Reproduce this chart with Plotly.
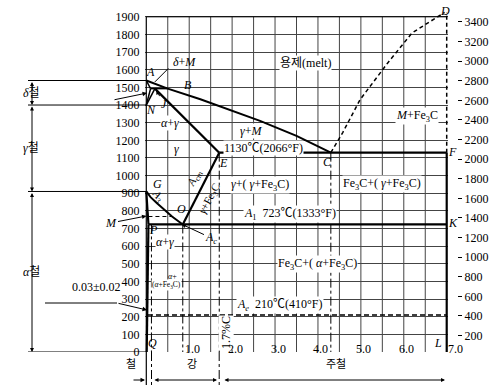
import plotly.graph_objects as go

# ---------------- data (wt% C , degC) ----------------
liquidus_c = [0.0, 0.5, 1.26, 2.65, 3.5, 4.3]
liquidus_t = [1539, 1493, 1433, 1310, 1225, 1130]
ah_c = [0.0, 0.1]
ah_t = [1539, 1493]
hjb_c = [0.1, 0.5]
hjb_t = [1493, 1493]
hn_c = [0.1, 0.06, 0.02, 0.0]
hn_t = [1493, 1460, 1425, 1400]
jn_c = [0.2, 0.0]
jn_t = [1493, 1400]
je_c = [0.2, 1.7]
je_t = [1493, 1130]
eutectic_c = [1.7, 7.0]
eutectic_t = [1130, 1130]
cd_c = [4.3, 4.58, 4.98, 5.63, 6.19, 6.95]
cd_t = [1130, 1245, 1430, 1640, 1808, 1925]
fd_c = [7.0, 7.0]
fd_t = [1130, 1925]
fl_c = [7.0, 7.0]
fl_t = [1130, 0]
gs_c = [0.0, 0.1, 0.25, 0.4, 0.6, 0.85]
gs_t = [910, 878, 843, 810, 768, 723]
gp_c = [0.0, 0.05]
gp_t = [910, 723]
pq_c = [0.05, 0.03, 0.01]
pq_t = [723, 250, 0]
es_c = [1.7, 0.85]
es_t = [1130, 723]
a1_c = [0.05, 7.0]
a1_t = [723, 723]
a2_c = [0.05, 0.6]
a2_t = [768, 768]
a0_c = [0.04, 7.0]
a0_t = [210, 210]
dd_c = [0.12, 0.85, 1.7, 4.3]
dd_top = [723, 723, 1130, 1130]
bracket_t = [1539, 1400, 910, 0]
bracket_lbl = ["<i>δ</i>철", "<i>γ</i>철", "<i>α</i>철"]

x_ticks = [1.0, 2.0, 3.0, 4.0, 5.0, 6.0, 7.0]
y_ticks = list(range(0, 2000, 100))
f_ticks = [200, 400, 600, 800, 1000, 1200, 1400, 1600, 1800, 2000, 2200,
           2400, 2600, 2800, 3000, 3200, 3400]
grid_c = [0.5, 1.0, 1.5, 2.0, 2.5, 3.0, 3.5, 4.0, 4.5, 5.0, 5.5, 6.0, 6.5]

# ---------------- layout geometry ----------------
W, H = 500, 387
ML, MR, MT, MB = 145, 43, 8, 35
PW = W - ML - MR
PH = H - MT - MB
XDOM = 303 / PW
FONT = "Liberation Serif, Noto Sans CJK KR, serif"
GRID = "#444"


def pxx(x):
    return (x - ML) / PW


def pxy(y):
    return (H - MB - y) / PH


fig = go.Figure()


def line(c, t, w=2.0, dash="solid", color="black"):
    fig.add_trace(go.Scatter(x=c, y=t, mode="lines",
                             line=dict(color=color, width=w, dash=dash),
                             hoverinfo="skip", showlegend=False))


# spine and frame
line([0, 0], [0, 1900], 1.2)
line([0, 7.0], [1900, 1900], 1.0)
# phase lines
line(liquidus_c, liquidus_t, 2.0)
line(ah_c, ah_t, 1.5)
line(hjb_c, hjb_t, 1.5)
line(hn_c, hn_t, 1.5)
line(jn_c, jn_t, 1.5)
line(je_c, je_t, 2.2)
line(eutectic_c, eutectic_t, 2.2)
line(cd_c, cd_t, 1.5, "4px,3px")
line(fd_c, fd_t, 1.5, "4px,3px")
line(fl_c, fl_t, 2.2)
line(gs_c, gs_t, 2.0)
line(gp_c, gp_t, 2.2)
line(pq_c, pq_t, 2.2)
line(es_c, es_t, 2.2)
line(a1_c, a1_t, 2.2)
line(a2_c, a2_t, 1.2, "4px,3px")
line(a0_c, a0_t, 1.5, "5px,3px")
for c, top in zip(dd_c, dd_top):
    line([c, c], [top, 0], 1.0, "dashdot")

# invisible trace for the Fahrenheit axis
fig.add_trace(go.Scatter(x=[0], y=[32], yaxis="y2", mode="markers",
                         marker=dict(opacity=0), hoverinfo="skip",
                         showlegend=False))

shapes = []
for c in grid_c:
    shapes.append(dict(type="line", xref="x", yref="y", x0=c, x1=c, y0=0,
                       y1=1900, line=dict(color=GRID, width=1),
                       layer="below"))
# left bracket horizontal lines
for t in bracket_t:
    shapes.append(dict(type="line", xref="paper", yref="y", x0=pxx(28),
                       x1=pxx(146), y0=t, y1=t,
                       line=dict(color="black", width=1)))
# extensions below the axis
shapes.append(dict(type="line", xref="paper", yref="paper", x0=pxx(146.3),
                   x1=pxx(146.3), y0=pxy(352), y1=pxy(385),
                   line=dict(color="black", width=1.2)))
for xp in (151.5, 219.2):
    shapes.append(dict(type="line", xref="paper", yref="paper", x0=pxx(xp),
                       x1=pxx(xp), y0=pxy(352), y1=pxy(385),
                       line=dict(color="black", width=1, dash="dashdot")))
# 0.03 leader horizontal
shapes.append(dict(type="line", xref="paper", yref="paper", x0=pxx(45),
                   x1=pxx(117), y0=pxy(303), y1=pxy(303),
                   line=dict(color="black", width=1)))

ann = []


def txt(s, c, t, size=12, angle=0, bg=None, xshift=0, yshift=0):
    d = dict(text=s, x=c, y=t, xref="x", yref="y", showarrow=False,
             font=dict(family=FONT, size=size, color="black"),
             textangle=angle, xshift=xshift, yshift=yshift,
             borderpad=0)
    if bg:
        d["bgcolor"] = "white"
    ann.append(d)


txt("<i>δ</i>+<i>M</i>", 0.90, 1645)
txt("<i>A</i>", 0.09, 1585)
txt("<i>B</i>", 0.97, 1514)
txt("<i>N</i>", 0.11, 1370)
txt("<i>α</i>+<i>γ</i>", 0.55, 1298, bg=True)
txt("<i>γ</i>", 0.71, 1151, bg=True)
txt("<i>E</i>", 1.79, 1071)
txt("<i>G</i>", 0.25, 955)
txt("1130℃(2066°F)", 2.72, 1158, bg=True)
txt("<i>γ</i>+<i>M</i>", 2.44, 1253, bg=True)
txt("<i>C</i>", 4.23, 1075)
txt("용제(melt)", 3.72, 1638, bg=True)
txt("<i>D</i>", 6.96, 1935)
txt("<i>M</i>+Fe<sub>3</sub>C", 6.31, 1338, bg=True)
txt("<i>F</i>", 7.0, 1136, xshift=6)
txt("Fe<sub>3</sub>C+( <i>γ</i>+Fe<sub>3</sub>C)", 5.49, 952, bg=True)
txt("<i>γ</i>+( <i>γ</i>+Fe<sub>3</sub>C)", 2.65, 947, bg=True)
txt("<i>A</i><sub>1</sub>  723℃(1333°F)", 3.35, 780, bg=True)
txt("<i>K</i>", 7.0, 731, xshift=6)
txt("Fe<sub>3</sub>C+( <i>α</i>+Fe<sub>3</sub>C)", 3.98, 500, bg=True)
txt("<i>A<sub>e</sub></i>  210℃(410°F)", 3.12, 266, bg=True)
txt("<i>L</i>", 6.8, 51)
txt("<i>Q</i>", 0.14, 51)
txt("<i>P</i>", 0.17, 692)
txt("<i>O</i>", 0.83, 811)
txt("<i>α</i>+<i>γ</i>", 0.44, 624, bg=True)
txt("<i>α</i>+", 0.62, 428, size=8)
txt("(<i>α</i>+Fe<sub>3</sub>C)", 0.47, 380, size=7.5, bg=True)
txt("<i>A</i><sub>3</sub>", 0.27, 885, size=11, angle=50)
txt("<i>A</i><sub>cm</sub>", 1.13, 985, size=11, angle=-62)
txt("<i>γ</i>+Fe<sub>3</sub>C", 1.47, 870, size=11, angle=-62)
txt("1.7%C", 1.86, 108, size=12, angle=-90, bg=True)

# x tick labels placed as text just under the axis
for v in x_ticks:
    ann.append(dict(text=f"{v:.1f}", x=v, y=pxy(358), xref="x", yref="paper",
                    showarrow=False, xshift=9 if v == 7.0 else 3,
                    font=dict(family=FONT, size=12, color="black")))

# arrows
AR = dict(arrowhead=2, arrowsize=0.9, arrowwidth=1, arrowcolor="black",
          font=dict(family=FONT, size=12, color="black"))
ann.append(dict(text="<i>J</i>", x=0.23, y=1485, xref="x", yref="y",
                ax=8, ay=14, showarrow=True, **AR))
ann.append(dict(text="<i>A<sub>c</sub></i>", x=0.82, y=725, xref="x", yref="y",
                ax=30, ay=14, showarrow=True, **AR))
ann.append(dict(text="", x=0.2, y=1531, xref="x", yref="y", ax=15, ay=-15,
                showarrow=True, arrowhead=0, arrowwidth=1, arrowcolor="black"))
ann.append(dict(text="<i>M</i>", x=pxx(146.5), y=771, xref="paper", yref="y",
                ax=-36, ay=7, showarrow=True, **AR))
ann.append(dict(text="", x=pxx(147), y=1468, xref="paper", yref="y",
                ax=-34, ay=7, showarrow=True, **AR))
ann.append(dict(text="", x=pxx(147), y=238, xref="paper", yref="y",
                ax=-30, ay=-7, showarrow=True, **AR))
ann.append(dict(text="0.03±0.02", x=pxx(70), y=pxy(296), xref="paper",
                yref="paper", showarrow=False,
                font=dict(family=FONT, size=12, color="black")))
# left brackets
for i in range(3):
    ann.append(dict(text="", x=pxx(32), y=bracket_t[i + 1], xref="paper",
                    yref="y", axref="pixel", ax=0, ayref="y",
                    ay=bracket_t[i], showarrow=True, arrowside="end+start",
                    arrowhead=2, arrowsize=0.8, arrowwidth=1,
                    arrowcolor="black"))
    ann.append(dict(text=bracket_lbl[i], x=pxx(21), xref="paper", yref="y",
                    y=(bracket_t[i] + bracket_t[i + 1]) / 2, showarrow=False,
                    font=dict(family=FONT, size=12, color="black")))
# bottom labels and arrows
for s, xp in (("철", 124), ("강", 185), ("주철", 336)):
    ann.append(dict(text=s, x=pxx(xp), y=pxy(372), xref="paper",
                    yref="paper", showarrow=False,
                    font=dict(family=FONT, size=11, color="black")))
ann.append(dict(text="", x=pxx(145), y=pxy(380), xref="paper", yref="paper",
                ax=-13, ay=0, showarrow=True, **AR))
ann.append(dict(text="", x=pxx(217), y=pxy(380), xref="paper", yref="paper",
                ax=-64, ay=0, showarrow=True, arrowside="end+start",
                arrowhead=2, arrowsize=0.8, arrowwidth=1, arrowcolor="black"))
ann.append(dict(text="", x=pxx(445), y=pxy(380), xref="paper", yref="paper",
                ax=-222, ay=0, showarrow=True, arrowside="end+start",
                arrowhead=2, arrowsize=0.8, arrowwidth=1, arrowcolor="black"))

fig.update_layout(
    width=W, height=H,
    margin=dict(l=ML, r=MR, t=MT, b=MB),
    paper_bgcolor="white", plot_bgcolor="white",
    font=dict(family=FONT, size=12, color="black"),
    shapes=shapes, annotations=ann,
    xaxis=dict(domain=[0, XDOM], range=[-0.03, 7.03], showgrid=False,
               zeroline=False, showline=False, showticklabels=False,
               ticks=""),
    yaxis=dict(range=[0, 1950], tickvals=y_ticks,
               ticktext=[str(v) for v in y_ticks], showgrid=True,
               gridcolor=GRID, gridwidth=1, zeroline=False,
               showline=False, ticks="outside", ticklen=2,
               tickcolor="rgba(0,0,0,0)",
               tickfont=dict(family=FONT, size=12, color="black")),
    yaxis2=dict(overlaying="y", anchor="free", position=1.0, side="right",
                range=[32, 1950 * 1.8 + 32], tickvals=f_ticks,
                ticktext=[str(v) for v in f_ticks], showgrid=False,
                zeroline=False, showline=False, ticks="outside", ticklen=4,
                tickcolor="black",
                tickfont=dict(family=FONT, size=12, color="black")),
)

fig.write_html("out.html", config={"displayModeBar": False},
               post_script="document.body.style.margin='0';"
                           "document.body.style.overflow='hidden';")
